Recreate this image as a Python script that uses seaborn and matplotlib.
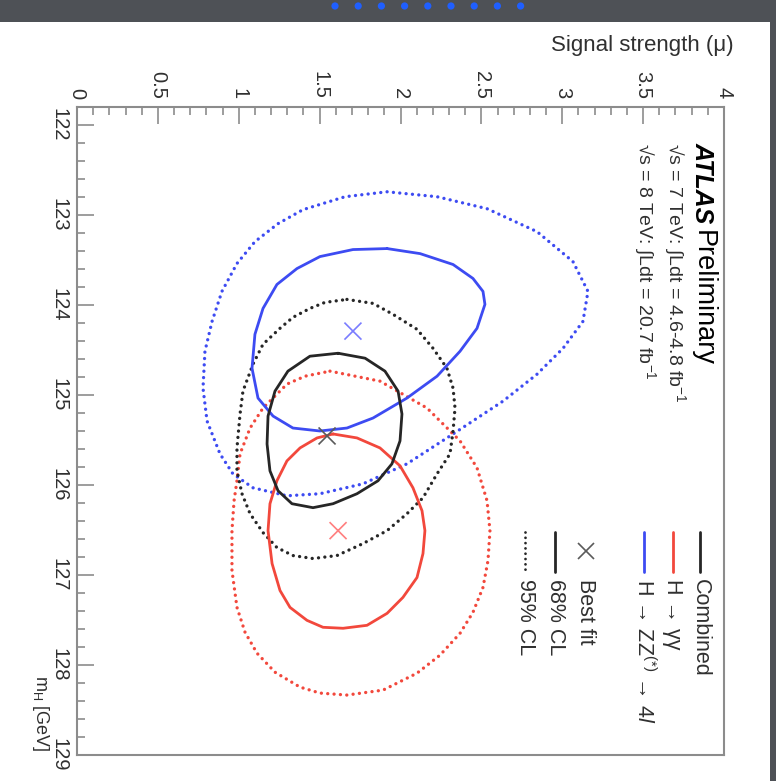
import matplotlib
matplotlib.use("Agg")
import matplotlib.pyplot as plt
import seaborn as sns
import pandas as pd
from matplotlib.ticker import MultipleLocator
from matplotlib.patches import Rectangle, Circle

# ---------------- data (signal strength mu, Higgs mass mH [GeV]) ----------------
zz68_mu = [1.917, 2.121, 2.325, 2.448, 2.510, 2.522, 2.473, 2.368, 2.226, 2.040, 1.830, 1.669,
           1.502, 1.335, 1.212, 1.119, 1.082, 1.100, 1.150, 1.236, 1.360, 1.502, 1.706]
zz68_mh = [123.373, 123.429, 123.550, 123.705, 123.849, 123.993, 124.259, 124.514, 124.791,
           125.034, 125.256, 125.367, 125.400, 125.367, 125.234, 125.034, 124.702, 124.326,
           124.038, 123.772, 123.595, 123.462, 123.384]

zz95_mu = [1.917, 2.226, 2.535, 2.844, 3.066, 3.159, 3.128, 3.005, 2.844, 2.634, 2.325, 2.040,
           1.768, 1.502, 1.298, 1.088, 0.964, 0.884, 0.804, 0.779, 0.791, 0.835, 0.896, 0.989,
           1.100, 1.243, 1.397, 1.657]
zz95_mh = [122.742, 122.797, 122.930, 123.185, 123.517, 123.849, 124.182, 124.481, 124.769,
           125.068, 125.433, 125.765, 125.987, 126.097, 126.120, 126.031, 125.876, 125.654,
           125.289, 124.924, 124.514, 124.182, 123.849, 123.539, 123.296, 123.096, 122.941,
           122.797]

comb68_mu = [1.614, 1.781, 1.904, 1.985, 2.009, 1.997, 1.947, 1.861, 1.731, 1.583, 1.459, 1.329,
             1.243, 1.193, 1.175, 1.181, 1.224, 1.304, 1.440]
comb68_mh = [124.536, 124.591, 124.735, 124.957, 125.211, 125.510, 125.765, 125.953, 126.097,
             126.208, 126.252, 126.208, 126.064, 125.843, 125.544, 125.234, 124.957, 124.735,
             124.569]

comb95_mu = [1.669, 1.830, 1.954, 2.102, 2.201, 2.287, 2.325, 2.337, 2.325, 2.306, 2.226, 2.139,
             2.040, 1.917, 1.768, 1.607, 1.459, 1.335, 1.236, 1.150, 1.070, 1.020, 0.989, 0.989,
             1.008, 1.026, 1.088, 1.150, 1.255, 1.335, 1.440, 1.533]
comb95_mh = [123.938, 123.982, 124.104, 124.270, 124.481, 124.702, 124.924, 125.145, 125.400,
             125.654, 125.876, 126.142, 126.319, 126.507, 126.651, 126.784, 126.817, 126.784,
             126.695, 126.529, 126.319, 126.097, 125.843, 125.588, 125.211, 124.957, 124.658,
             124.436, 124.259, 124.137, 124.038, 123.971]

gg68_mu = [1.583, 1.731, 1.873, 1.997, 2.077, 2.133, 2.151, 2.139, 2.102, 2.015, 1.917, 1.793,
           1.645, 1.521, 1.422, 1.317, 1.255, 1.206, 1.181, 1.193, 1.236, 1.298, 1.379, 1.484]
gg68_mh = [125.433, 125.477, 125.588, 125.787, 126.031, 126.286, 126.507, 126.762, 127.028,
           127.249, 127.426, 127.559, 127.592, 127.581, 127.504, 127.360, 127.172, 126.873,
           126.507, 126.208, 125.953, 125.732, 125.588, 125.477]

gg95_mu = [1.564, 1.873, 2.164, 2.368, 2.473, 2.535, 2.553, 2.541, 2.510, 2.448, 2.368, 2.244,
           2.102, 1.892, 1.669, 1.502, 1.379, 1.224, 1.113, 1.039, 0.989, 0.958, 0.958, 0.971,
           0.989, 1.008, 1.070, 1.150, 1.298, 1.410]
gg95_mh = [124.735, 124.846, 125.145, 125.510, 125.809, 126.175, 126.507, 126.839, 127.138,
           127.415, 127.648, 127.891, 128.091, 128.279, 128.334, 128.312, 128.246, 128.080,
           127.869, 127.637, 127.360, 126.950, 126.507, 126.175, 125.953, 125.654, 125.367,
           125.145, 124.879, 124.791]

best_channel = ["ZZ", "Combined", "gg"]
best_mu = [1.706, 1.546, 1.614]
best_mh = [124.29, 125.455, 126.507]

mu_ticks = [0, 0.5, 1, 1.5, 2, 2.5, 3, 3.5, 4]
mu_ticklabels = ["0", "0.5", "1", "1.5", "2", "2.5", "3", "3.5", "4"]
mh_ticks = [122, 123, 124, 125, 126, 127, 128, 129]
mh_ticklabels = ["122", "123", "124", "125", "126", "127", "128", "129"]

legend_labels = ["Combined", "H \u2192 \u03b3\u03b3",
                 "H \u2192 ZZ$^{(*)}$ \u2192 4$\\mathit{l}$",
                 "Best fit", "68% CL", "95% CL"]

# ---------------- style ----------------
sns.set_theme(style="white")
plt.rcParams["font.family"] = ["Liberation Sans", "DejaVu Sans"]
plt.rcParams["mathtext.fontset"] = "custom"
plt.rcParams["mathtext.rm"] = "Liberation Sans"
plt.rcParams["mathtext.it"] = "Liberation Sans:italic"
plt.rcParams["mathtext.bf"] = "Liberation Sans:bold"

BLUE = "#3d4bf2"
RED = "#f2483c"
BLACK = "#262626"
TXT = "#303030"
FRAME = "#8c8c8c"

W, H = 776, 781
fig = plt.figure(figsize=(W / 100, H / 100), dpi=100)
fig.patch.set_facecolor("#4e5156")
fig.patches.append(Rectangle((0, 0), 770 / W, (H - 22) / H, transform=fig.transFigure,
                             facecolor="white", edgecolor="none", zorder=-5))
# decorative dots on top strip
for k in range(9):
    cx = (335 + k * 23.2) / W
    fig.patches.append(Circle((cx, 1 - 6 / H), 3.6 / W, transform=fig.transFigure,
                              facecolor="#1f5fff", edgecolor="none", zorder=-4))

ax = fig.add_axes([77 / W, 26 / H, 647 / W, 648 / H])
ax.set_facecolor("white")
ax.set_xlim(0, 4)
ax.set_ylim(129, 121.8)

dotted = (0, (0.01, 1.9))


def contour(mu, mh, color, ls, lw):
    df = pd.DataFrame({"mu": list(mu) + [mu[0]], "mH": list(mh) + [mh[0]]})
    sns.lineplot(data=df, x="mu", y="mH", sort=False, estimator=None, ax=ax,
                 color=color, linewidth=lw)
    l = ax.lines[-1]
    l.set_linestyle(ls)
    l.set_dash_capstyle("round")
    l.set_solid_capstyle("round")
    l.set_solid_joinstyle("round")


contour(zz95_mu, zz95_mh, BLUE, dotted, 2.4)
contour(gg95_mu, gg95_mh, RED, dotted, 2.4)
contour(comb95_mu, comb95_mh, BLACK, dotted, 2.4)
contour(zz68_mu, zz68_mh, BLUE, "-", 2.0)
contour(gg68_mu, gg68_mh, RED, "-", 2.0)
contour(comb68_mu, comb68_mh, BLACK, "-", 2.0)

bf = pd.DataFrame({"channel": best_channel, "mu": best_mu, "mH": best_mh})
sns.scatterplot(data=bf, x="mu", y="mH", hue="channel", marker="x", s=150, linewidth=1.2,
                palette={"ZZ": "#7a7cff", "Combined": "#5a5a5a", "gg": "#ff7f7f"},
                legend=False, ax=ax, zorder=5)

ax.set_xlabel("")
ax.set_ylabel("")

# axes / ticks
ax.xaxis.tick_top()
ax.set_xticks(mu_ticks)
ax.set_xticklabels(mu_ticklabels)
ax.set_yticks(mh_ticks)
ax.set_yticklabels(mh_ticklabels)
ax.xaxis.set_minor_locator(MultipleLocator(0.1))
ax.yaxis.set_minor_locator(MultipleLocator(0.2))
ax.tick_params(axis="both", which="both", direction="in", color=FRAME, width=1.2,
               labelcolor=TXT, labelsize=14.5)
ax.tick_params(axis="both", which="major", length=12)
ax.tick_params(axis="both", which="minor", length=6)
ax.tick_params(axis="x", labelrotation=270, pad=6, top=True, bottom=False, which="both")
ax.tick_params(axis="y", labelrotation=270, pad=6, left=True, right=False, which="both")
for lab in ax.get_yticklabels():
    lab.set_verticalalignment("center")
for s in ax.spines.values():
    s.set_color(FRAME)
    s.set_linewidth(1.5)

# axis titles
fig.text(734 / W, 1 - 45 / H, "Signal strength (\u03bc)", ha="right", va="center",
         fontsize=16, color=TXT)
fig.text(40 / W, 1 - 752 / H, r"m$_{\mathrm{H}}$ [GeV]", ha="center", va="bottom",
         rotation=270, fontsize=13, color=TXT)


def axx(px):
    return (px - 77) / 647


def axy(py):
    return (755 - py) / 648


# ATLAS label
ax.text(axx(703), axy(142), "ATLAS", transform=ax.transAxes, rotation=270, ha="center",
        va="top", fontsize=18, fontweight="bold", fontstyle="italic", color="black")
ax.text(axx(703), axy(230), "Preliminary", transform=ax.transAxes, rotation=270,
        ha="center", va="top", fontsize=19.5, color="black")
ax.text(axx(675), axy(143), "\u221as = 7 TeV: \u222bLdt = 4.6-4.8 fb$^{-1}$",
        transform=ax.transAxes, rotation=270, ha="center", va="top", fontsize=14,
        color=TXT)
ax.text(axx(645), axy(143), "\u221as = 8 TeV: \u222bLdt = 20.7 fb$^{-1}$",
        transform=ax.transAxes, rotation=270, ha="center", va="top", fontsize=14,
        color=TXT)

# legend (rotated, built by hand)
leg_x = [700, 673, 644, 586, 555, 525]
leg_col = [BLACK, RED, BLUE, "#5a5a5a", BLACK, BLACK]
leg_ls = ["-", "-", "-", None, "-", dotted]
for lx, lab, col, ls in zip(leg_x, legend_labels, leg_col, leg_ls):
    if ls is None:
        ax.plot([axx(lx)], [axy(551)], marker="x", ms=12, mew=1.2, color=col,
                transform=ax.transAxes)
    else:
        ax.plot([axx(lx), axx(lx)], [axy(532), axy(572)], color=col, lw=2.0, ls=ls,
                dash_capstyle="round", transform=ax.transAxes)
    ax.text(axx(lx), axy(579), lab, transform=ax.transAxes, rotation=270, ha="center",
            va="top", fontsize=15.5, color=TXT)

fig.savefig("out.png", dpi=100, facecolor=fig.get_facecolor())
